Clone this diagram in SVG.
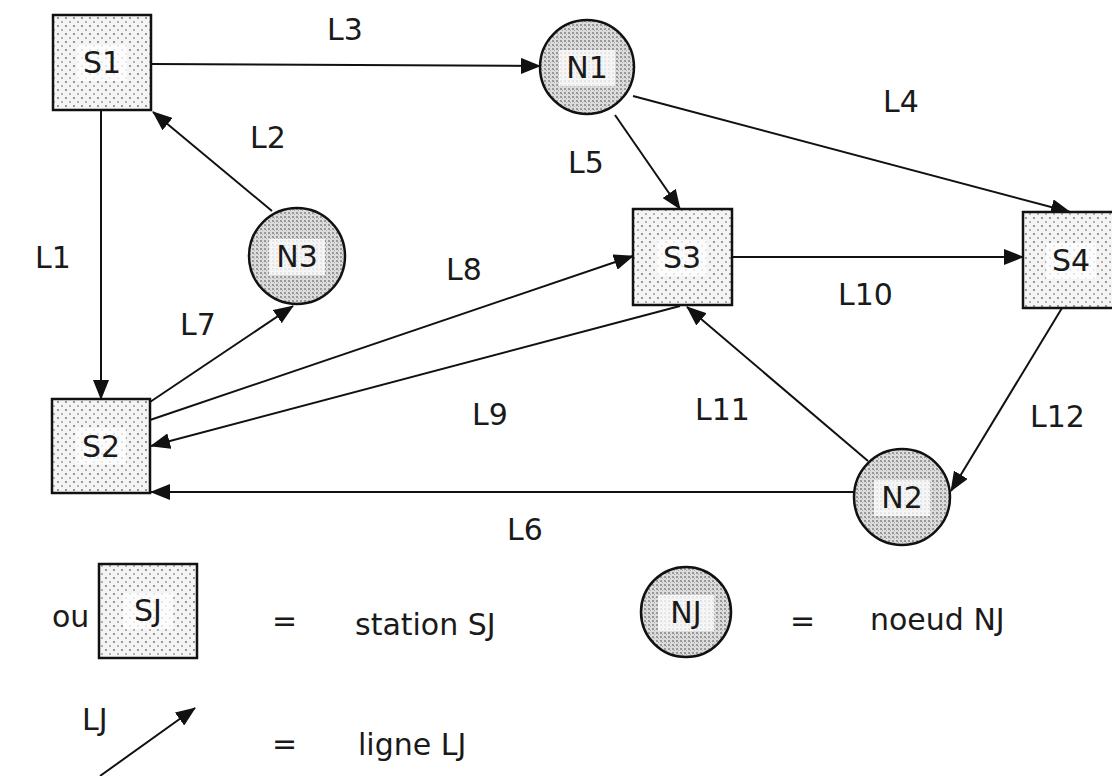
<svg xmlns="http://www.w3.org/2000/svg" width="1112" height="776" viewBox="0 0 1112 776">
<style>
text{font-family:"DejaVu Sans","Liberation Sans",sans-serif;font-size:30px;fill:#1a1a1a}
.box{fill:url(#dots);stroke:#111;stroke-width:2.5}
.circ{fill:url(#grain);stroke:#111;stroke-width:2.5}
.lab{fill:#fff;opacity:0.75}
.edge{stroke:#111;stroke-width:2;fill:none;marker-end:url(#ah)}
</style>
<defs>
<pattern id="dots" width="8" height="8" patternUnits="userSpaceOnUse">
<rect width="8" height="8" fill="#f4f4f4"/>
<circle cx="2" cy="2" r="1" fill="#777"/>
<circle cx="6" cy="6" r="1" fill="#999"/>
</pattern>
<pattern id="grain" width="4" height="4" patternUnits="userSpaceOnUse">
<rect width="4" height="4" fill="#dcdcdc"/>
<rect x="0" y="0" width="2" height="2" fill="#999"/>
<rect x="2" y="2" width="1" height="1" fill="#aaa"/>
</pattern>
<marker id="ah" viewBox="0 0 20 16" refX="19" refY="8" markerWidth="20" markerHeight="16" markerUnits="userSpaceOnUse" orient="auto">
<path d="M0,0 L20,8 L0,16 Z" fill="#111"/>
</marker>
</defs>
<rect width="1112" height="776" fill="#fff"/>

<g id="connectors">
<line id="L3" class="edge" x1="151" y1="64" x2="540" y2="66"/>
<line id="L4" class="edge" x1="633" y1="96" x2="1070" y2="212"/>
<line id="L5" class="edge" x1="615" y1="115" x2="680" y2="209"/>
<line id="L2" class="edge" x1="272" y1="211" x2="153" y2="112"/>
<line id="L1" class="edge" x1="101" y1="110" x2="101" y2="399"/>
<line id="L7" class="edge" x1="150" y1="402" x2="293" y2="306"/>
<line id="L8" class="edge" x1="150" y1="420" x2="633" y2="256"/>
<line id="L9" class="edge" x1="680" y1="306" x2="151" y2="446"/>
<line id="L10" class="edge" x1="732" y1="257" x2="1023" y2="257"/>
<line id="L11" class="edge" x1="868" y1="461" x2="687" y2="307"/>
<line id="L12" class="edge" x1="1062" y1="308" x2="951" y2="491"/>
<line id="L6" class="edge" x1="855" y1="492" x2="151" y2="492"/>
</g>

<g id="S1"><rect class="box" x="53" y="15" width="98" height="95"/><rect class="lab" x="77" y="45" width="50" height="36"/><text x="102" y="73" text-anchor="middle">S1</text></g>
<g id="S2"><rect class="box" x="52" y="399" width="98" height="94"/><rect class="lab" x="76" y="428" width="50" height="36"/><text x="101" y="457" text-anchor="middle">S2</text></g>
<g id="S3"><rect class="box" x="633" y="209" width="99" height="96"/><rect class="lab" x="657" y="240" width="50" height="36"/><text x="682" y="268" text-anchor="middle">S3</text></g>
<g id="S4"><rect class="box" x="1023" y="212" width="98" height="96"/><rect class="lab" x="1046" y="243" width="50" height="36"/><text x="1071" y="271" text-anchor="middle">S4</text></g>
<g id="N1"><circle class="circ" cx="587" cy="67" r="47"/><rect class="lab" x="559" y="50" width="56" height="36"/><text x="587" y="78" text-anchor="middle">N1</text></g>
<g id="N2"><circle class="circ" cx="902" cy="497" r="48"/><rect class="lab" x="874" y="480" width="56" height="36"/><text x="902" y="508" text-anchor="middle">N2</text></g>
<g id="N3"><circle class="circ" cx="297" cy="256" r="48"/><rect class="lab" x="269" y="239" width="56" height="36"/><text x="297" y="267" text-anchor="middle">N3</text></g>

<g id="labels">
<text x="327" y="40">L3</text>
<text x="883" y="112">L4</text>
<text x="568" y="173">L5</text>
<text x="250" y="148">L2</text>
<text x="35" y="268">L1</text>
<text x="446" y="280">L8</text>
<text x="180" y="335">L7</text>
<text x="838" y="305">L10</text>
<text x="472" y="425">L9</text>
<text x="695" y="420">L11</text>
<text x="1030" y="427">L12</text>
<text x="507" y="540">L6</text>
</g>

<g id="legend">
<text x="52" y="627">ou</text>
<g id="SJ"><rect class="box" x="99" y="564" width="98" height="94"/><rect class="lab" x="123" y="593" width="50" height="36"/><text x="148" y="621" text-anchor="middle">SJ</text></g>
<text x="272" y="631">=</text>
<text x="355" y="635">station SJ</text>
<g id="NJ"><circle class="circ" cx="686" cy="612" r="45"/><rect class="lab" x="658" y="595" width="56" height="36"/><text x="686" y="623" text-anchor="middle">NJ</text></g>
<text x="790" y="631">=</text>
<text x="870" y="630">noeud NJ</text>
<text x="82" y="730">LJ</text>
<line class="edge" x1="100" y1="776" x2="195" y2="708"/>
<text x="272" y="754">=</text>
<text x="358" y="755">ligne LJ</text>
</g>
</svg>
